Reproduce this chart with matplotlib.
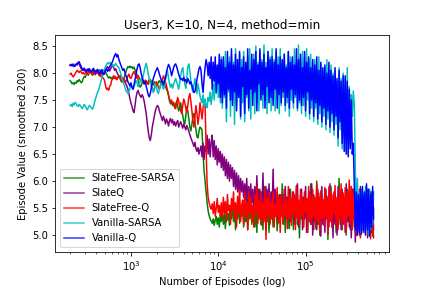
import numpy as np
import matplotlib
matplotlib.use('Agg')
import matplotlib.pyplot as plt

# --- valores (300 amostras por curva, de 200 a 6e5 episodios) ---
FIRST_EP = 200
LAST_EP = 600000

slatefree_sarsa = [
    7.86, 7.84, 7.80, 7.82, 7.79, 7.83, 7.81, 7.86, 7.84, 7.88,
    7.85, 7.82, 7.84, 7.90, 7.94, 7.92, 7.97, 8.00, 8.03, 8.01,
    8.04, 8.00, 7.96, 7.99, 8.03, 8.05, 8.02, 8.00, 8.04, 8.06,
    8.03, 8.00, 7.97, 8.01, 8.04, 8.02, 7.98, 7.94, 7.91, 7.93,
    7.90, 7.92, 7.89, 7.91, 7.94, 7.90, 7.88, 7.92, 7.95, 7.91,
    7.86, 7.83, 7.85, 7.90, 7.96, 8.02, 8.08, 8.12, 8.10, 8.13,
    8.10, 8.12, 8.08, 8.11, 8.06, 8.02, 7.95, 7.88, 7.80, 7.74,
    7.76, 7.82, 7.85, 7.80, 7.83, 7.86, 7.82, 7.79, 7.84, 7.88,
    7.85, 7.82, 7.78, 7.84, 7.80, 7.76, 7.79, 7.83, 7.86, 7.82,
    7.85, 7.88, 7.83, 7.79, 7.74, 7.70, 7.66, 7.58, 7.48, 7.43,
    7.46, 7.40, 7.44, 7.35, 7.42, 7.48, 7.38, 7.30, 7.36, 7.45,
    7.30, 7.22, 7.10, 7.06, 7.20, 7.38, 7.30, 7.15, 7.00, 6.93,
    7.05, 7.20, 7.25, 7.10, 6.95, 6.82, 6.80, 6.92, 7.00, 6.98,
    6.95, 6.50, 6.20, 6.00, 5.80, 5.60, 5.45, 5.36, 5.30, 5.26,
    5.22, 5.30, 5.18, 5.28, 5.35, 5.20, 5.32, 5.15, 5.40, 5.25,
    5.45, 5.20, 5.38, 5.12, 5.50, 5.28, 5.40, 5.18, 5.55, 5.30,
    5.60, 5.25, 5.45, 5.10, 5.55, 5.30, 5.65, 5.22, 5.48, 5.35,
    5.55, 5.15, 5.45, 5.25, 5.70, 5.10, 5.50, 5.30, 5.60, 5.20,
    5.40, 5.75, 5.15, 5.50, 5.05, 5.65, 5.30, 5.85, 5.20, 5.45,
    5.10, 5.60, 5.35, 5.90, 5.25, 5.55, 5.05, 5.70, 5.30, 5.50,
    5.15, 5.80, 5.40, 5.60, 5.08, 5.50, 5.25, 5.75, 5.35, 5.95,
    5.20, 5.55, 5.05, 5.70, 5.35, 5.45, 5.12, 5.85, 5.30, 5.60,
    5.10, 5.65, 5.40, 5.90, 5.20, 5.50, 4.95, 5.75, 5.30, 5.55,
    5.15, 5.80, 5.35, 5.60, 5.05, 5.70, 5.25, 5.95, 5.40, 5.50,
    5.10, 5.65, 5.30, 6.00, 5.20, 5.55, 5.00, 5.75, 5.35, 5.60,
    5.20, 5.85, 5.40, 5.55, 4.92, 5.70, 5.30, 5.90, 5.15, 5.60,
    5.25, 5.75, 5.05, 5.65, 5.35, 6.05, 5.20, 5.80, 5.10, 5.55,
    5.30, 5.70, 5.00, 5.85, 5.25, 5.60, 5.10, 5.90, 5.35, 5.50,
    5.15, 5.75, 5.00, 5.60, 5.25, 5.80, 4.98, 5.65, 5.20, 5.55,
    5.05, 5.70, 5.30, 5.85, 5.00, 5.60, 5.15, 5.80, 4.98, 5.50,
]

slate_q = [
    8.15, 8.16, 8.14, 8.17, 8.15, 8.13, 8.16, 8.18, 8.20, 8.17,
    8.12, 8.08, 8.05, 8.08, 8.04, 8.06, 8.02, 8.05, 8.08, 8.04,
    8.02, 8.00, 8.04, 8.06, 8.01, 7.97, 8.02, 8.05, 8.00, 7.96,
    7.98, 8.03, 8.06, 8.02, 7.98, 8.05, 8.10, 8.12, 8.08, 8.04,
    8.08, 8.12, 8.15, 8.10, 8.05, 8.08, 8.02, 7.98, 7.95, 7.92,
    7.95, 7.92, 7.88, 7.86, 7.84, 7.80, 7.76, 7.70, 7.62, 7.52,
    7.45, 7.38, 7.30, 7.27, 7.40, 7.55, 7.64, 7.68, 7.62, 7.58,
    7.55, 7.60, 7.56, 7.48, 7.36, 7.25, 7.08, 6.93, 6.80, 6.75,
    6.85, 7.00, 7.10, 7.20, 7.30, 7.36, 7.40, 7.38, 7.30, 7.24,
    7.18, 7.12, 7.20, 7.14, 7.06, 7.15, 7.10, 7.02, 7.12, 7.16,
    7.08, 7.14, 7.04, 7.10, 7.02, 7.08, 7.12, 7.00, 7.06, 7.10,
    7.04, 6.98, 7.06, 7.00, 6.95, 7.03, 6.98, 6.92, 6.86, 6.80,
    6.75, 6.70, 6.64, 6.72, 6.60, 6.55, 6.62, 6.50, 6.58, 6.65,
    6.45, 6.70, 6.40, 6.65, 6.55, 6.85, 6.50, 6.78, 6.45, 6.72,
    6.85, 6.45, 6.75, 6.40, 6.65, 6.30, 6.60, 6.35, 6.55, 6.25,
    6.50, 6.20, 6.45, 6.10, 6.40, 6.05, 6.35, 6.00, 6.30, 6.05,
    6.25, 5.90, 6.20, 5.85, 6.15, 5.80, 6.10, 5.75, 6.05, 5.80,
    6.00, 5.70, 5.95, 5.65, 6.05, 5.60, 5.90, 5.55, 5.95, 5.60,
    5.85, 5.50, 5.90, 5.45, 6.10, 5.55, 5.85, 5.40, 5.80, 5.50,
    6.15, 5.45, 5.90, 5.40, 5.85, 5.50, 5.95, 5.35, 5.80, 5.45,
    6.22, 5.40, 5.85, 5.35, 5.80, 5.30, 5.75, 5.25, 5.70, 5.35,
    5.75, 5.35, 5.90, 5.30, 5.70, 5.45, 5.85, 5.25, 5.65, 5.40,
    5.80, 5.20, 5.70, 5.35, 5.95, 5.15, 5.60, 5.40, 5.85, 5.10,
    5.70, 5.30, 5.90, 5.05, 5.65, 5.35, 5.80, 5.20, 5.95, 5.00,
    5.75, 5.25, 5.60, 5.10, 5.85, 5.30, 5.70, 4.98, 5.90, 5.20,
    5.65, 5.05, 5.85, 5.30, 5.70, 5.15, 5.95, 5.25, 5.60, 4.95,
    5.80, 5.20, 5.65, 5.00, 5.90, 5.30, 5.75, 5.10, 5.85, 5.20,
    5.70, 5.05, 5.95, 5.25, 5.80, 5.15, 5.60, 4.95, 5.85, 5.30,
    5.65, 4.87, 5.80, 5.10, 5.70, 5.00, 5.90, 5.20, 5.75, 5.05,
    5.60, 5.15, 5.85, 4.95, 5.70, 5.25, 5.80, 5.05, 5.65, 5.10,
]

slatefree_q = [
    7.98, 8.00, 7.96, 7.93, 7.95, 7.99, 8.02, 8.05, 8.03, 8.01,
    8.04, 8.02, 7.99, 8.01, 7.98, 8.00, 8.03, 7.99, 7.96, 8.00,
    8.02, 8.04, 8.01, 7.97, 7.99, 8.03, 8.05, 8.02, 7.98, 7.95,
    7.94, 7.96, 7.92, 7.90, 7.86, 7.76, 7.70, 7.72, 7.68, 7.75,
    7.78, 7.86, 7.92, 7.95, 7.90, 7.93, 7.88, 7.91, 7.95, 7.92,
    7.88, 7.85, 7.87, 7.90, 7.86, 7.84, 7.88, 7.95, 7.98, 7.92,
    7.90, 7.95, 8.00, 8.03, 7.98, 7.94, 7.90, 7.96, 7.92, 7.88,
    7.85, 7.90, 7.86, 7.82, 7.87, 7.84, 7.80, 7.84, 7.88, 7.83,
    7.80, 7.72, 7.66, 7.70, 7.78, 7.84, 7.80, 7.74, 7.70, 7.76,
    7.82, 7.88, 7.95, 7.90, 7.84, 7.76, 7.68, 7.60, 7.52, 7.46,
    7.50, 7.42, 7.46, 7.40, 7.34, 7.45, 7.55, 7.48, 7.38, 7.30,
    7.25, 7.40, 7.52, 7.45, 7.35, 7.28, 7.40, 7.55, 7.62, 7.48,
    7.30, 7.12, 7.00, 7.18, 7.40, 7.25, 7.05, 7.20, 7.45, 7.30,
    7.15, 7.35, 7.50, 7.42, 6.60, 5.95, 5.70, 5.60, 5.52, 5.48,
    5.58, 5.40, 5.62, 5.35, 5.50, 5.68, 5.42, 5.55, 5.36, 5.60,
    5.30, 5.70, 5.40, 5.62, 5.25, 5.75, 5.45, 5.55, 5.20, 5.68,
    5.45, 5.80, 5.30, 5.60, 5.15, 5.72, 5.38, 5.85, 5.25, 5.55,
    5.65, 5.20, 5.78, 5.35, 5.60, 5.10, 5.82, 5.40, 5.70, 5.25,
    5.55, 5.15, 5.75, 5.40, 5.90, 5.22, 5.65, 5.30, 5.80, 5.18,
    5.60, 5.25, 5.85, 4.92, 5.70, 5.35, 5.78, 5.20, 5.62, 5.30,
    5.80, 5.15, 5.55, 5.35, 5.88, 5.22, 5.70, 5.05, 5.75, 5.40,
    5.25, 5.85, 5.35, 5.65, 5.12, 5.90, 5.30, 5.72, 5.18, 5.80,
    5.40, 5.75, 5.10, 5.92, 5.30, 5.65, 5.20, 5.85, 5.35, 5.70,
    5.15, 5.80, 5.42, 5.68, 5.05, 5.90, 5.28, 5.75, 5.20, 5.85,
    5.35, 5.70, 5.12, 5.95, 5.25, 5.78, 5.08, 5.82, 5.30, 5.66,
    5.18, 5.88, 5.35, 5.72, 5.02, 5.90, 5.25, 5.80, 5.15, 5.75,
    5.40, 5.92, 5.20, 5.70, 5.10, 5.85, 5.30, 5.95, 5.15, 5.78,
    5.25, 5.88, 5.05, 5.80, 5.35, 6.02, 5.20, 5.90, 5.10, 5.85,
    5.30, 5.80, 5.00, 5.70, 5.20, 5.85, 4.95, 5.75, 5.15, 5.65,
    5.10, 5.80, 5.25, 5.70, 5.00, 5.75, 4.93, 5.65, 5.20, 4.95,
]

vanilla_sarsa = [
    7.40, 7.42, 7.38, 7.44, 7.41, 7.46, 7.43, 7.40, 7.38, 7.42,
    7.40, 7.37, 7.34, 7.38, 7.42, 7.39, 7.35, 7.32, 7.36, 7.40,
    7.38, 7.36, 7.33, 7.38, 7.45, 7.52, 7.58, 7.64, 7.68, 7.75,
    7.82, 7.90, 7.98, 8.04, 8.08, 8.12, 8.16, 8.19, 8.17, 8.20,
    8.18, 8.14, 8.16, 8.12, 8.15, 8.18, 8.14, 8.12, 8.10, 8.05,
    7.98, 7.90, 7.85, 7.80, 7.74, 7.68, 7.65, 7.62, 7.66, 7.72,
    7.78, 7.74, 7.70, 7.76, 7.80, 7.86, 7.82, 7.75, 7.78, 7.84,
    7.90, 7.86, 7.95, 8.05, 8.12, 8.18, 8.10, 7.98, 7.90, 7.84,
    7.76, 7.70, 7.64, 7.72, 7.80, 7.74, 7.66, 7.62, 7.70, 7.78,
    7.82, 7.76, 7.70, 7.80, 7.88, 7.96, 8.04, 7.92, 7.80, 7.74,
    7.80, 7.72, 7.78, 7.85, 7.90, 7.84, 7.78, 7.70, 7.82, 7.96,
    8.05, 8.10, 7.95, 7.80, 7.72, 7.90, 8.12, 8.17, 8.05, 7.85,
    7.72, 7.65, 7.78, 7.90, 7.75, 7.62, 7.80, 7.70, 7.58, 7.50,
    7.45, 7.60, 7.38, 7.52, 7.40, 7.36, 7.55, 7.48, 7.65, 7.42,
    7.58, 7.80, 7.50, 7.95, 7.62, 8.10, 7.55, 8.20, 7.45, 8.30,
    7.35, 8.25, 7.55, 8.40, 7.10, 8.15, 7.65, 8.30, 7.20, 8.35,
    7.50, 8.20, 7.05, 8.45, 7.40, 8.10, 7.60, 8.35, 7.15, 8.25,
    7.45, 8.40, 7.10, 8.15, 7.55, 8.30, 7.30, 8.45, 7.15, 8.20,
    7.60, 8.35, 7.25, 8.50, 7.45, 8.20, 7.30, 8.40, 7.55, 8.25,
    7.35, 8.52, 7.50, 8.20, 7.25, 8.40, 7.60, 8.30, 7.30, 8.45,
    7.50, 8.25, 7.30, 8.40, 7.65, 8.30, 7.25, 8.45, 7.40, 8.20,
    7.55, 8.35, 7.30, 8.15, 7.45, 8.40, 7.20, 8.30, 7.50, 8.25,
    7.35, 8.45, 7.55, 8.20, 7.30, 8.52, 7.45, 8.30, 7.25, 8.40,
    7.40, 8.30, 7.20, 8.45, 7.50, 8.25, 7.15, 8.35, 7.35, 8.20,
    7.10, 8.25, 7.35, 8.10, 7.05, 8.30, 7.25, 8.15, 7.00, 8.05,
    7.20, 8.10, 6.95, 8.25, 7.15, 7.95, 6.90, 8.15, 7.10, 8.00,
    6.85, 8.05, 7.05, 7.85, 6.65, 8.10, 6.95, 7.90, 6.60, 8.00,
    6.80, 7.90, 6.55, 8.10, 6.50, 7.75, 6.65, 7.60, 7.20, 7.67,
    7.40, 6.20, 5.40, 6.05, 5.20, 5.80, 5.05, 5.85, 5.10, 5.75,
    5.05, 5.90, 5.15, 5.80, 5.00, 5.85, 5.10, 5.70, 5.20, 5.80,
]

vanilla_q = [
    8.14, 8.16, 8.13, 8.15, 8.12, 8.14, 8.17, 8.15, 8.19, 8.21,
    8.16, 8.12, 8.08, 8.05, 8.09, 8.06, 8.03, 8.07, 8.04, 8.08,
    8.05, 8.02, 8.06, 8.09, 8.04, 8.00, 8.03, 8.07, 8.02, 7.99,
    8.03, 8.06, 8.00, 7.97, 8.02, 8.05, 8.08, 8.03, 8.07, 8.12,
    8.15, 8.18, 8.22, 8.28, 8.33, 8.36, 8.30, 8.34, 8.26, 8.20,
    8.15, 8.10, 8.05, 8.08, 8.02, 7.95, 7.90, 7.84, 7.80, 7.76,
    7.82, 7.74, 7.70, 7.78, 7.88, 7.98, 8.08, 8.15, 8.17, 8.10,
    8.00, 7.92, 7.86, 7.80, 7.84, 7.76, 7.68, 7.60, 7.56, 7.62,
    7.72, 7.82, 7.90, 7.96, 8.02, 8.06, 8.10, 8.05, 7.98, 7.92,
    7.86, 7.82, 7.78, 7.84, 7.92, 8.02, 8.10, 8.16, 8.12, 8.05,
    7.95, 8.02, 8.10, 8.15, 8.17, 8.12, 8.05, 7.98, 7.92, 7.88,
    7.90, 7.86, 7.92, 7.85, 7.88, 7.82, 7.90, 7.86, 7.80, 7.84,
    7.78, 7.70, 7.64, 7.66, 7.75, 7.88, 7.98, 8.08, 8.12, 8.05,
    7.80, 7.64, 7.90, 8.10, 8.25, 8.15, 7.95, 8.20, 7.90, 8.30,
    7.70, 8.20, 7.85, 8.30, 7.65, 8.15, 7.80, 8.35, 7.55, 8.25,
    7.45, 8.30, 7.60, 8.10, 7.35, 8.40, 7.70, 8.20, 7.50, 8.45,
    7.40, 8.15, 7.65, 8.35, 7.30, 8.25, 7.55, 8.40, 7.20, 8.10,
    7.75, 8.30, 7.25, 8.20, 7.60, 8.45, 7.35, 8.05, 7.70, 8.35,
    7.40, 8.25, 7.65, 8.40, 7.30, 8.15, 7.80, 8.45, 7.50, 8.20,
    7.60, 8.35, 7.35, 8.10, 7.75, 8.40, 7.45, 8.25, 7.55, 8.30,
    7.40, 8.20, 7.70, 8.45, 7.35, 8.15, 7.60, 8.30, 7.45, 8.25,
    7.65, 8.35, 7.40, 8.10, 7.55, 8.40, 7.35, 8.20, 7.70, 8.30,
    7.45, 8.15, 7.60, 8.45, 7.35, 8.25, 7.50, 8.35, 7.40, 8.10,
    7.55, 8.40, 7.30, 8.20, 7.65, 8.30, 7.25, 8.10, 7.50, 8.25,
    7.20, 8.15, 7.45, 8.30, 7.15, 8.05, 7.40, 8.20, 7.10, 8.10,
    7.35, 8.15, 7.05, 8.00, 7.30, 8.20, 7.00, 8.05, 7.25, 7.95,
    6.95, 8.10, 7.20, 7.90, 6.80, 8.05, 7.10, 7.85, 6.70, 7.95,
    6.55, 7.95, 6.50, 7.85, 6.45, 7.70, 6.60, 7.50, 6.50, 6.70,
    5.90, 5.10, 5.80, 5.00, 5.75, 5.05, 5.85, 5.02, 5.90, 5.08,
    5.80, 5.00, 5.95, 5.10, 5.85, 4.98, 5.75, 5.15, 5.90, 5.30,
]

nomes = ['SlateFree-SARSA', 'SlateQ', 'SlateFree-Q', 'Vanilla-SARSA', 'Vanilla-Q']
cores = ['green', 'purple', 'red', 'c', 'blue']
curvas = [slatefree_sarsa, slate_q, slatefree_q, vanilla_sarsa, vanilla_q]

fig, ax = plt.subplots(figsize=(6, 4), dpi=72)
fig.subplots_adjust(left=0.127, right=0.9, bottom=0.125, top=0.878)

for nome, cor, valores in zip(nomes, cores, curvas):
    episodios = np.geomspace(FIRST_EP, LAST_EP, len(valores))
    ax.plot(episodios, valores, color=cor, label=nome)

ax.set_xscale('log')
ax.set_title('User3, K=10, N=4, method=min')
ax.set_xlabel('Number of Episodes (log)')
ax.set_ylabel('Episode Value (smoothed 200)')
leg = ax.legend(loc='lower left')
# linhas da legenda um pouco mais claras, como no original
for linha in leg.get_lines():
    linha.set_alpha(0.8)

fig.savefig('out.png', dpi=72)
